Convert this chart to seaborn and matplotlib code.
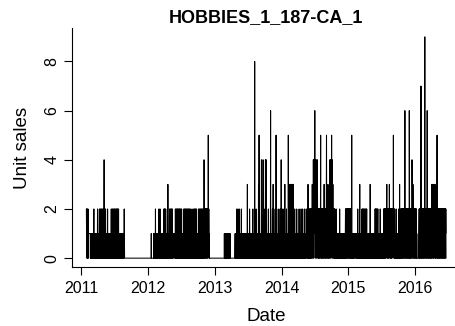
import numpy as np
import pandas as pd
import matplotlib
matplotlib.use("Agg")
import matplotlib.pyplot as plt
import seaborn as sns

title = "HOBBIES_1_187-CA_1"
x_label = "Date"
y_label = "Unit sales"
year_ticks = [2011, 2012, 2013, 2014, 2015, 2016]
y_ticks = [0, 2, 4, 6, 8]

# daily unit sales, one string per month (each char = one day), keyed by first day
monthly_sales = {
    "2011-01-29": "212",
    "2011-02-01": "01201020" "11111111111" "010100101",
    "2011-03-01": "0101001011" "2" "0100101011010010100" "2",
    "2011-04-01": "010100101" "201012010210120102101",
    "2011-05-01": "10201" "4" "010210120101" "010010" "2" "010101",
    "2011-06-01": "0101001010110" "20101201021010210",
    "2011-07-01": "201021010" "201201020" "120102010" "0101",
    "2011-08-01": "01001011010010101101001" "2" "1" "000000",
    "2011-09-01": "0000000000" "0000000000" "0000000000",
    "2011-10-01": "0000000000" "0000000000" "0000000000" "0",
    "2011-11-01": "0000000000" "0000000000" "0000000000",
    "2011-12-01": "0000000000" "0000000000" "0000000000" "0",
    "2012-01-01": "0000000000" "00000000" "1" "000000000000",
    "2012-02-01": "0101001010" "2" "0101101001010110" "11",
    "2012-03-01": "2" "10101" "2" "01001010110100101010" "2012",
    "2012-04-01": "0120102101" "01010010" "3" "01001010" "201",
    "2012-05-01": "020102010201201" "01001" "111111" "010" "20",
    "2012-06-01": "1020102012" "0102010201" "0210201020",
    "2012-07-01": "102010" "01001010" "20102010201020102",
    "2012-08-01": "01020102010201020102" "01010010" "2" "01",
    "2012-09-01": "010100" "2010201020102010201" "01010",
    "2012-10-01": "010" "2010" "2011" "2010" "2010" "2101" "2010" "2011",
    "2012-11-01": "20" "4" "1202120212021202120212" "5" "2120",
    "2012-12-01": "1" "0000000000" "0000000000" "0000000000",
    "2013-01-01": "0000000000" "0000000000" "0000000000" "0",
    "2013-02-01": "0000000000" "0000000000" "0" "1010101",
    "2013-03-01": "1010101010" "1010101010" "10101" "000000",
    "2013-04-01": "0000000000" "0000000000" "0" "101101011",
    "2013-05-01": "2010101" "2101010" "2010101010" "0" "2" "01010",
    "2013-06-01": "0101101001" "0101101001" "0110101" "3" "01",
    "2013-07-01": "010110100" "2" "101001011" "1" "0101001" "2" "010",
    "2013-08-01": "1" "01010" "8" "0101001" "2" "0101" "1" "0100101" "3" "01" "5",
    "2013-09-01": "0101" "1" "0101001" "4" "01010101" "4" "01010" "2" "01",
    "2013-10-01": "0101" "4" "010" "4" "01010" "1" "01001" "2" "0101" "1" "01010",
    "2013-11-01": "0" "6" "0101" "1" "0101" "2" "010" "3" "01010" "1" "0101" "2" "010",
    "2013-12-01": "0" "5" "01010" "1" "01010" "2" "0101" "1" "0101" "2" "01010" "4" "0",
    "2014-01-01": "1010" "2" "0101" "1" "010" "2" "0101" "3" "0101" "1" "010" "2" "010",
    "2014-02-01": "01" "1" "010" "5" "010" "2" "01" "3" "010" "3" "010" "3" "101" "3" "01",
    "2014-03-01": "0" "3" "010" "3" "0101010201001010102010010",
    "2014-04-01": "1010102010" "0101001201" "0101020101",
    "2014-05-01": "0101020100101" "11211" "0102010" "3" "02010",
    "2014-06-01": "20120212012021201" "3" "12021" "4" "202" "4" "12",
    "2014-07-01": "2" "6" "120" "4" "212" "4" "02" "3" "12" "4" "202120212021202",
    "2014-08-01": "12" "5" "021202120212021202" "3" "120212021",
    "2014-09-01": "202" "5" "12021203120212021" "4" "202" "4" "1202",
    "2014-10-01": "2" "5" "12" "4" "202" "3" "1202120212010101020101",
    "2014-11-01": "0101010010" "1010201001" "0101001010",
    "2014-12-01": "0101001010100101" "202120212021202",
    "2015-01-01": "12021202120212021" "01" "5" "01010010101",
    "2015-02-01": "0100" "111111" "01001010010" "2" "010101",
    "2015-03-01": "0101" "3" "01010010101" "201020120102010",
    "2015-04-01": "20102010201201" "0101101001101010",
    "2015-05-01": "3" "01011101001110100101101100" "2012",
    "2015-06-01": "020120102012" "010110100101" "2" "01011",
    "2015-07-01": "0101001011010" "20212021202120212" "3",
    "2015-08-01": "1202120212021" "3" "12021202120212021",
    "2015-09-01": "1211" "5" "1202120" "101001020100101001",
    "2015-10-01": "01020100" "3" "01010" "20212021202120212",
    "2015-11-01": "021202" "6" "12021202120212021202120",
    "2015-12-01": "6" "20212021202120" "4" "212032120212021",
    "2016-01-01": "202120212010" "0000000000" "120212021",
    "2016-02-01": "20" "7" "12021202120212021202" "9" "12021",
    "2016-03-01": "2021202" "6" "12021202120212021202120",
    "2016-04-01": "3" "1203212031202131203" "1202120212",
    "2016-05-01": "5" "0212021202" "1202120212" "0212021202",
    "2016-06-01": "1202120212021202120",
}

frames = []
for start, s in monthly_sales.items():
    d = pd.date_range(start, periods=len(s), freq="D")
    frames.append(pd.DataFrame({"date": d, "sales": [int(c) for c in s]}))
df = pd.concat(frames, ignore_index=True)

sns.set_style("ticks")
plt.rcParams["font.family"] = ["Liberation Sans", "DejaVu Sans"]

W, H = 456, 326
fig = plt.figure(figsize=(W / 100, H / 100), dpi=100)
fig.patch.set_facecolor("white")
ax = fig.add_axes([72 / W, 1 - 267 / H, 388.4 / W, (267 - 28) / H])

sns.lineplot(data=df, x="date", y="sales", color="black", linewidth=0.75,
             estimator=None, ax=ax)

start, end = df["date"].min(), df["date"].max()
span = end - start
ax.set_xlim(start - 0.04 * span, end + 0.04 * span)
ax.set_ylim(-0.36, 9.36)

ax.set_xticks([pd.Timestamp(f"{y}-01-01") for y in year_ticks])
ax.set_xticklabels([str(y) for y in year_ticks])
ax.set_yticks(y_ticks)
ax.set_yticklabels([str(v) for v in y_ticks])
for lab in ax.get_yticklabels():
    lab.set_rotation(90)
    lab.set_va("center")

ax.tick_params(axis="both", direction="out", length=5.5, width=0.8,
               color="black", labelsize=11.5, labelcolor="black")
ax.tick_params(axis="x", pad=4.5)
ax.tick_params(axis="y", pad=3.5)

for sp in ["top", "right"]:
    ax.spines[sp].set_visible(False)
for sp in ["left", "bottom"]:
    ax.spines[sp].set_linewidth(0.8)
    ax.spines[sp].set_color("black")

ax.set_xlabel(x_label, fontsize=13.5, labelpad=9, color="black")
ax.set_ylabel(y_label, fontsize=13.5, labelpad=10, color="black")
ax.set_title(title, fontsize=13, fontweight="bold", pad=4, color="black")
ax.grid(False)

fig.savefig("out.png", dpi=100, facecolor="white")
